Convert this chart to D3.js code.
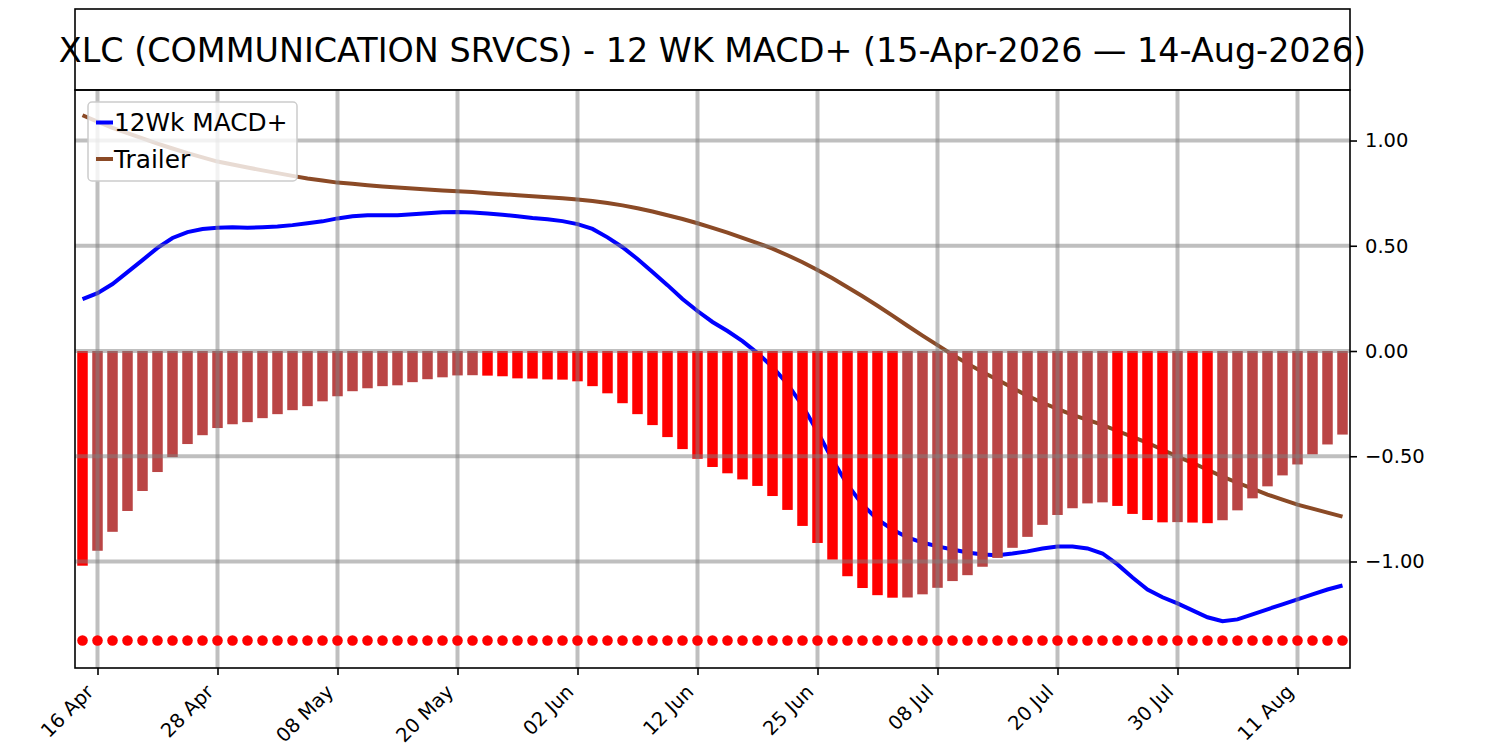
<!DOCTYPE html>
<html>
<head>
<meta charset="utf-8">
<script src="https://cdn.jsdelivr.net/npm/d3@7"></script>
<style>
  body { margin: 0; background: #fff; }
  svg { font-family: "DejaVu Sans", sans-serif; }
</style>
</head>
<body>
<svg width="1500" height="750"></svg>
<script>
var title = "XLC (COMMUNICATION SRVCS) - 12 WK MACD+ (15-Apr-2026 \u2014 14-Aug-2026)";

// histogram (one bar per trading day, 15 Apr .. 14 Aug)
var histValues = [
  -1.020, -0.949, -0.859, -0.760, -0.665, -0.575, -0.504, -0.442, -0.400, -0.366,
  -0.348, -0.338, -0.319, -0.300, -0.281, -0.262, -0.239, -0.215, -0.191, -0.177,
  -0.167, -0.163, -0.148, -0.134, -0.125, -0.116, -0.115, -0.117, -0.120, -0.130,
  -0.131, -0.135, -0.136, -0.144, -0.167, -0.201, -0.248, -0.300, -0.352, -0.409,
  -0.466, -0.512, -0.551, -0.581, -0.610, -0.641, -0.689, -0.755, -0.831, -0.912,
  -0.991, -1.070, -1.126, -1.160, -1.172, -1.171, -1.156, -1.125, -1.093, -1.065,
  -1.025, -0.983, -0.935, -0.883, -0.826, -0.779, -0.747, -0.724, -0.719, -0.736,
  -0.774, -0.803, -0.814, -0.813, -0.815, -0.818, -0.804, -0.757, -0.700, -0.643,
  -0.591, -0.539, -0.491, -0.444, -0.397
];

var macdValues = [
  0.247, 0.275, 0.318, 0.375, 0.432, 0.490, 0.537, 0.565, 0.580, 0.585,
  0.588, 0.585, 0.588, 0.592, 0.598, 0.607, 0.616, 0.630, 0.640, 0.645,
  0.645, 0.645, 0.650, 0.655, 0.659, 0.660, 0.658, 0.653, 0.647, 0.640,
  0.632, 0.626, 0.617, 0.603, 0.580, 0.540, 0.493, 0.437, 0.375, 0.313,
  0.247, 0.190, 0.138, 0.095, 0.047, -0.010, -0.076, -0.157, -0.260, -0.384,
  -0.517, -0.635, -0.730, -0.800, -0.848, -0.886, -0.910, -0.928, -0.943, -0.957,
  -0.967, -0.970, -0.962, -0.952, -0.938, -0.929, -0.929, -0.938, -0.962, -1.014,
  -1.076, -1.133, -1.170, -1.199, -1.232, -1.265, -1.284, -1.275, -1.251, -1.227,
  -1.204, -1.180, -1.156, -1.133, -1.114
];

var trailerValues = [
  1.120, 1.090, 1.060, 1.035, 1.010, 0.985, 0.962, 0.940, 0.920, 0.900,
  0.886, 0.872, 0.858, 0.845, 0.832, 0.820, 0.810, 0.800, 0.795, 0.788,
  0.782, 0.777, 0.772, 0.767, 0.763, 0.759, 0.755, 0.750, 0.745, 0.740,
  0.735, 0.730, 0.726, 0.720, 0.713, 0.703, 0.692, 0.678, 0.663, 0.645,
  0.627, 0.607, 0.585, 0.562, 0.537, 0.513, 0.486, 0.455, 0.422, 0.385,
  0.346, 0.303, 0.260, 0.215, 0.168, 0.120, 0.073, 0.028, -0.018, -0.060,
  -0.100, -0.137, -0.175, -0.213, -0.246, -0.275, -0.303, -0.327, -0.351, -0.380,
  -0.408, -0.436, -0.469, -0.502, -0.531, -0.564, -0.597, -0.626, -0.654, -0.682,
  -0.706, -0.730, -0.749, -0.768, -0.787
];

var signalLevel = -1.375;   // row of dots along the bottom

var tickIdx = [1, 9, 17, 25, 33, 41, 49, 57, 65, 73, 81];
var tickLabels = ["16 Apr", "28 Apr", "08 May", "20 May", "02 Jun", "12 Jun",
                  "25 Jun", "08 Jul", "20 Jul", "30 Jul", "11 Aug"];
var yTicks = [1, 0.5, 0, -0.5, -1];

var pL = 75, pR = 1350, pT = 90, pB = 668;
var svg = d3.select("svg");
var n = histValues.length;

var x = d3.scaleLinear().domain([-0.5, n - 0.5]).range([pL, pR]);
var y = d3.scaleLinear().domain([-1.506, 1.24]).range([pB, pT]);
var barW = (x(1) - x(0)) * 0.7;

var plot = svg.append("g");

// lines sit under the bars
var line = d3.line().x((d, i) => x(i)).y(d => y(d));
plot.append("path").datum(trailerValues)
    .attr("d", line).attr("fill", "none")
    .attr("stroke", "#8b4a26").attr("stroke-width", 4);
plot.append("path").datum(macdValues)
    .attr("d", line).attr("fill", "none")
    .attr("stroke", "#0000ff").attr("stroke-width", 4);

plot.selectAll("rect.bar")
    .data(histValues)
    .enter().append("rect")
    .attr("class", "bar")
    .attr("x", (d, i) => x(i) - barW / 2)
    .attr("width", barW)
    .attr("y", d => Math.min(y(d), y(0)))
    .attr("height", d => Math.abs(y(d) - y(0)))
    .attr("fill", (d, i) => (i == 0 || d < histValues[i - 1]) ? "#ff0000" : "#ba4545");

// grid over the bars, half transparent
var grid = plot.append("g").attr("stroke", "#808080").attr("stroke-opacity", 0.5).attr("stroke-width", 4);
grid.selectAll("line.h").data(yTicks).enter().append("line")
    .attr("x1", pL).attr("x2", pR)
    .attr("y1", d => y(d)).attr("y2", d => y(d));
grid.selectAll("line.v").data(tickIdx).enter().append("line")
    .attr("x1", d => x(d)).attr("x2", d => x(d))
    .attr("y1", pT).attr("y2", pB);

plot.selectAll("circle.sig")
    .data(histValues)
    .enter().append("circle")
    .attr("cx", (d, i) => x(i))
    .attr("cy", y(signalLevel))
    .attr("r", 5.3)
    .attr("fill", "#ff0000");

// axes
var yAxis = svg.append("g")
    .attr("transform", "translate(" + pR + ",0)")
    .call(d3.axisRight(y).tickValues(yTicks).tickFormat(d3.format(".2f")).tickSize(7).tickPadding(8));
yAxis.select(".domain").remove();
yAxis.attr("font-size", 19.5).attr("font-family", "DejaVu Sans");
yAxis.selectAll("text").attr("fill", "#000");
yAxis.selectAll("line").attr("stroke", "#000").attr("stroke-width", 1.6);

var xAxis = svg.append("g")
    .attr("transform", "translate(0," + pB + ")")
    .call(d3.axisBottom(x).tickValues(tickIdx).tickFormat((d, i) => tickLabels[i]).tickSize(7));
xAxis.select(".domain").remove();
xAxis.attr("font-size", 19.5).attr("font-family", "DejaVu Sans");
xAxis.selectAll("line").attr("stroke", "#000").attr("stroke-width", 1.6);
xAxis.selectAll("text")
    .attr("fill", "#000")
    .attr("text-anchor", "end")
    .attr("x", 0).attr("y", 0).attr("dy", 0)
    .attr("transform", "translate(-3.3,25) rotate(-45)");

// frames
svg.append("rect").attr("x", pL).attr("y", pT).attr("width", pR - pL).attr("height", pB - pT)
    .attr("fill", "none").attr("stroke", "#000").attr("stroke-width", 1.6);
svg.append("rect").attr("x", pL).attr("y", 9).attr("width", pR - pL).attr("height", pT - 9)
    .attr("fill", "none").attr("stroke", "#000").attr("stroke-width", 1.6);

svg.append("text")
    .attr("x", (pL + pR) / 2).attr("y", 62)
    .attr("text-anchor", "middle")
    .attr("font-size", 33.4)
    .text(title);

// legend
var legend = svg.append("g").attr("transform", "translate(88,102)");
legend.append("rect").attr("width", 209).attr("height", 79).attr("rx", 4)
    .attr("fill", "#fff").attr("fill-opacity", 0.8)
    .attr("stroke", "#cccccc").attr("stroke-width", 1.5);
var items = [["12Wk MACD+", "#0000ff"], ["Trailer", "#8b4a26"]];
items.forEach(function (it, k) {
    var cy = 20.5 + k * 36.5;
    legend.append("line").attr("x1", 8).attr("x2", 25).attr("y1", cy).attr("y2", cy)
        .attr("stroke", it[1]).attr("stroke-width", 4);
    legend.append("text").attr("x", 26).attr("y", cy + 8.8)
        .attr("font-size", 24.8).text(it[0]);
});
</script>
</body>
</html>
